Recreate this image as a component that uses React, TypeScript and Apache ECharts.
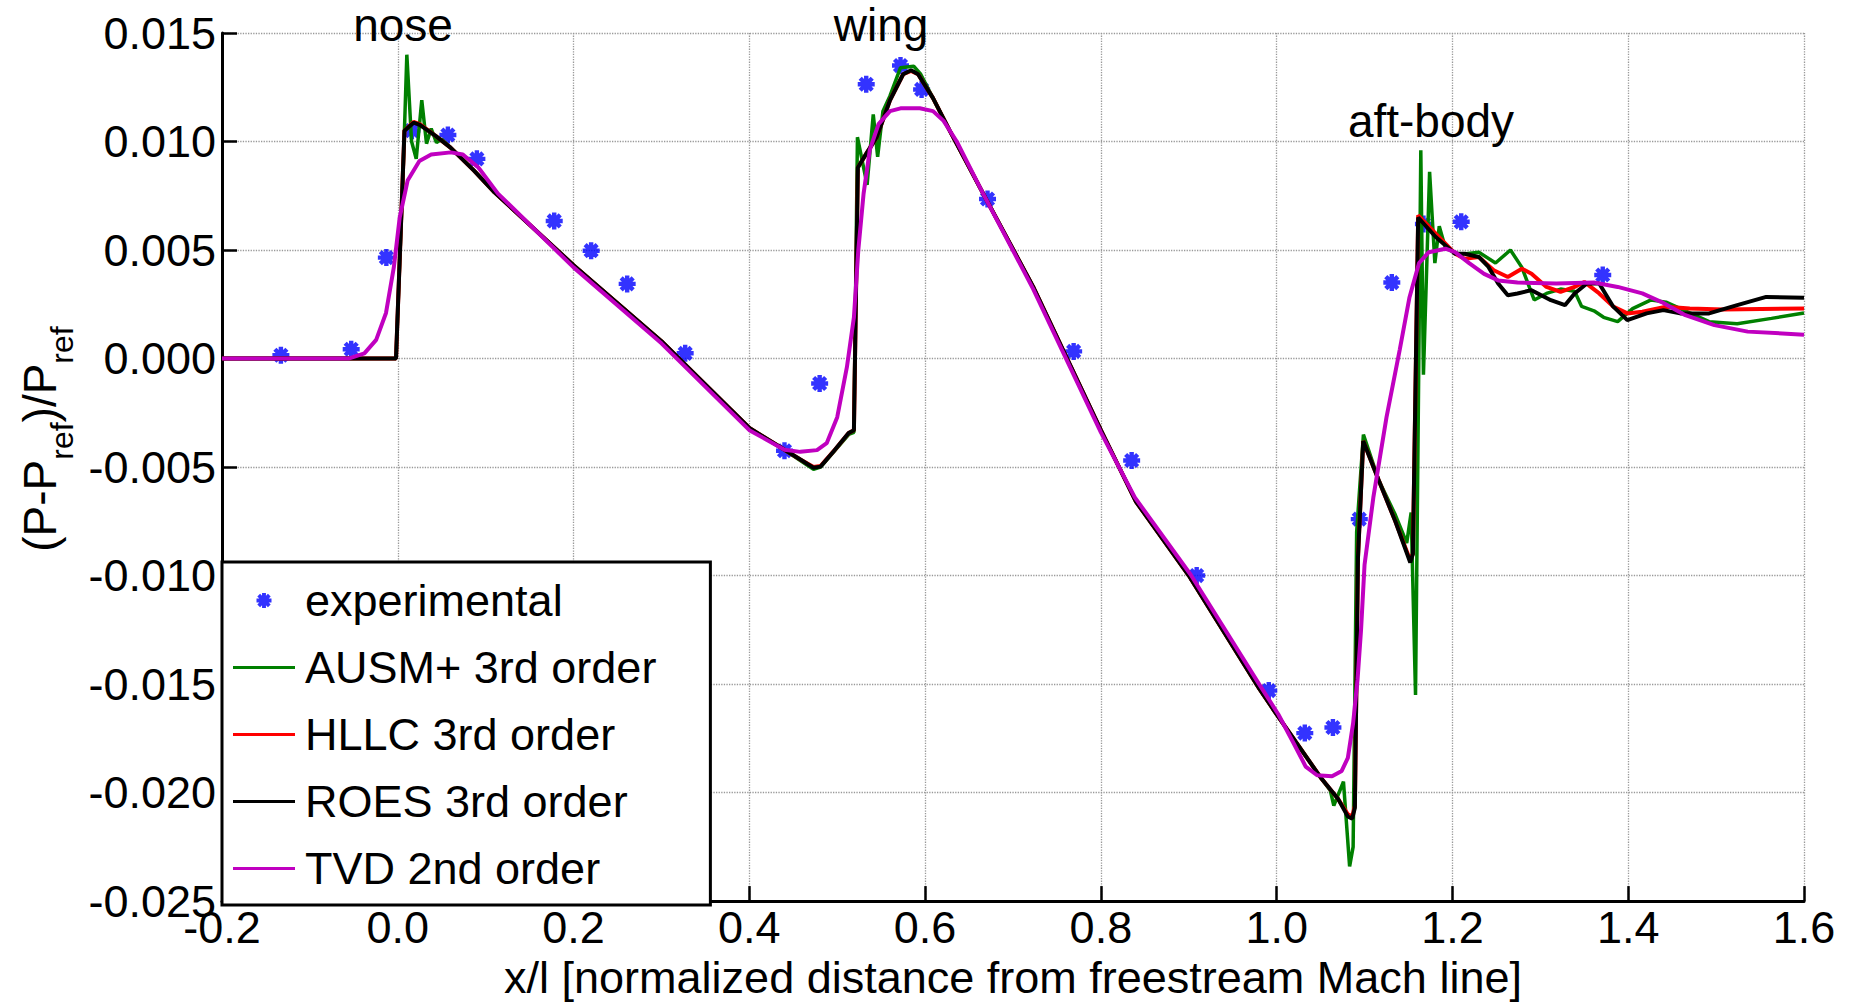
import React, { useEffect, useRef } from 'react';
import * as echarts from 'echarts';

const FONT = '"Liberation Sans", Arial, Helvetica, sans-serif';

// x/l, (P-Pref)/Pref
const experimental: [number, number][] = [
  [-0.133, 0.00015], [-0.053, 0.00043], [-0.013, 0.00465], [0.016, 0.0105],
  [0.057, 0.0103], [0.09, 0.0092], [0.178, 0.00634], [0.22, 0.00497],
  [0.261, 0.00344], [0.327, 0.00024], [0.44, -0.00425], [0.48, -0.00115],
  [0.533, 0.01264], [0.572, 0.0135], [0.596, 0.0124], [0.671, 0.00735],
  [0.769, 0.00033], [0.835, -0.0047], [0.909, -0.01], [0.991, -0.0153],
  [1.032, -0.01726], [1.064, -0.017], [1.094, -0.0074], [1.131, 0.0035],
  [1.167, 0.0062], [1.21, 0.0063], [1.371, 0.00385],
];

const ausm: [number, number][] = [
  [-0.2, 0], [-0.002, 0], [0.006, 0.0085], [0.0103, 0.014], [0.0157, 0.01],
  [0.021, 0.0092], [0.0273, 0.0119], [0.0327, 0.0099], [0.038, 0.0106],
  [0.044, 0.00995], [0.05, 0.0101], [0.06, 0.00972], [0.087, 0.00865],
  [0.11, 0.00766], [0.2, 0.0043], [0.3, 0.0008], [0.4, -0.0032], [0.44, -0.0042],
  [0.458, -0.0047], [0.473, -0.0051], [0.481, -0.005], [0.496, -0.0043],
  [0.513, -0.0035], [0.519, -0.0034], [0.523, 0.0102], [0.534, 0.008],
  [0.541, 0.01125], [0.546, 0.0093], [0.552, 0.0114], [0.56, 0.0121],
  [0.572, 0.0134], [0.587, 0.01347], [0.595, 0.0131], [0.609, 0.012],
  [0.628, 0.0105], [0.67, 0.0073], [0.723, 0.0033], [0.8, -0.0033],
  [0.84, -0.0066], [0.9, -0.01], [0.98, -0.0152], [1.0, -0.0164],
  [1.05, -0.0193], [1.061, -0.0199], [1.065, -0.0206], [1.076, -0.0195],
  [1.083, -0.0234], [1.087, -0.0225], [1.091, -0.008], [1.0987, -0.0035],
  [1.116, -0.0056], [1.135, -0.0072], [1.148, -0.0085], [1.153, -0.0071],
  [1.158, -0.0155], [1.162, 0.001], [1.164, 0.0096], [1.167, -0.00075],
  [1.174, 0.0086], [1.18, 0.0044], [1.185, 0.0061], [1.192, 0.0051],
  [1.208, 0.0048], [1.23, 0.0049], [1.249, 0.0044], [1.266, 0.005],
  [1.279, 0.0042], [1.293, 0.0027], [1.307, 0.003], [1.323, 0.0032],
  [1.339, 0.0031], [1.347, 0.0024], [1.361, 0.0022], [1.372, 0.0019],
  [1.388, 0.0017], [1.405, 0.0023], [1.426, 0.0027], [1.443, 0.0026],
  [1.47, 0.0021], [1.492, 0.0017], [1.524, 0.0016], [1.563, 0.00185],
  [1.6, 0.0021],
];

const hllc: [number, number][] = [
  [-0.2, 0], [-0.002, 0], [0.0076, 0.0105], [0.018, 0.0109], [0.025, 0.0108],
  [0.043, 0.01026], [0.06, 0.00972], [0.087, 0.00865], [0.11, 0.00766],
  [0.2, 0.0043], [0.3, 0.0008], [0.4, -0.0032], [0.44, -0.0042],
  [0.458, -0.00465], [0.473, -0.005], [0.481, -0.00495], [0.496, -0.00427],
  [0.513, -0.00343], [0.519, -0.0033], [0.5235, 0.0088], [0.534, 0.0095],
  [0.545, 0.0102], [0.56, 0.0119], [0.575, 0.0131], [0.584, 0.01325],
  [0.592, 0.0131], [0.609, 0.012], [0.628, 0.0105], [0.67, 0.0073],
  [0.723, 0.0033], [0.8, -0.0033], [0.84, -0.0066], [0.9, -0.01],
  [0.98, -0.0152], [1.0, -0.0164], [1.05, -0.0193], [1.07, -0.0203],
  [1.081, -0.021], [1.086, -0.0211], [1.089, -0.0206], [1.0925, -0.0092],
  [1.0985, -0.0038], [1.116, -0.0056], [1.135, -0.0075], [1.152, -0.0093],
  [1.155, -0.009], [1.161, 0.0066], [1.181, 0.00575], [1.203, 0.00483],
  [1.214, 0.0046], [1.23, 0.00468], [1.247, 0.00407], [1.263, 0.00376],
  [1.279, 0.00414], [1.29, 0.00391], [1.307, 0.0033], [1.323, 0.00307],
  [1.339, 0.0033], [1.35, 0.00353], [1.367, 0.003], [1.383, 0.00239],
  [1.399, 0.00208], [1.416, 0.00216], [1.443, 0.00239], [1.47, 0.00231],
  [1.508, 0.00226], [1.6, 0.00231],
];

const roes: [number, number][] = [
  [-0.2, 0], [-0.002, 0], [0.0076, 0.0105], [0.018, 0.01087], [0.025, 0.01077],
  [0.043, 0.01026], [0.06, 0.00972], [0.087, 0.00865], [0.11, 0.00766],
  [0.2, 0.0043], [0.3, 0.0008], [0.4, -0.0032], [0.44, -0.0042],
  [0.458, -0.00465], [0.473, -0.00503], [0.481, -0.00498], [0.496, -0.00427],
  [0.513, -0.00343], [0.519, -0.0033], [0.5235, 0.0088], [0.534, 0.0095],
  [0.545, 0.0102], [0.56, 0.0119], [0.575, 0.0131], [0.584, 0.01328],
  [0.592, 0.0131], [0.609, 0.012], [0.628, 0.0105], [0.67, 0.0073],
  [0.723, 0.0033], [0.8, -0.0033], [0.84, -0.0066], [0.9, -0.01],
  [0.98, -0.0152], [1.0, -0.0164], [1.05, -0.0193], [1.07, -0.0203],
  [1.081, -0.0211], [1.086, -0.0212], [1.089, -0.0207], [1.0925, -0.0092],
  [1.0985, -0.0038], [1.116, -0.0056], [1.135, -0.0075], [1.152, -0.0094],
  [1.155, -0.009], [1.161, 0.0065], [1.181, 0.0056], [1.203, 0.00483],
  [1.214, 0.00483], [1.23, 0.00468], [1.241, 0.00422], [1.252, 0.00346],
  [1.263, 0.00292], [1.274, 0.003], [1.29, 0.00315], [1.312, 0.00269],
  [1.328, 0.00246], [1.339, 0.003], [1.353, 0.00346], [1.367, 0.00346],
  [1.383, 0.00239], [1.399, 0.00177], [1.421, 0.00208], [1.44, 0.00223],
  [1.459, 0.00208], [1.492, 0.00208], [1.524, 0.00246], [1.557, 0.00284],
  [1.6, 0.0028],
];

const tvd: [number, number][] = [
  [-0.2, 0], [-0.056, 0], [-0.038, 0.00024], [-0.0246, 0.00086],
  [-0.0134, 0.0021], [-0.0045, 0.0042], [0.0022, 0.0065], [0.0112, 0.0082],
  [0.0246, 0.0091], [0.038, 0.0094], [0.0604, 0.0095], [0.074, 0.0094],
  [0.0917, 0.0088], [0.114, 0.0076], [0.2, 0.0042], [0.3, 0.0007],
  [0.4, -0.0033], [0.44, -0.0042], [0.458, -0.0043], [0.477, -0.00422],
  [0.488, -0.0039], [0.5, -0.0027], [0.511, -0.0004], [0.519, 0.0019],
  [0.524, 0.005], [0.53, 0.0076], [0.537, 0.0096], [0.547, 0.0108],
  [0.56, 0.0114], [0.572, 0.01153], [0.594, 0.01153], [0.609, 0.0114],
  [0.621, 0.01095], [0.636, 0.01], [0.666, 0.0076], [0.723, 0.0032],
  [0.8, -0.0034], [0.8386, -0.0064], [0.902, -0.00995], [0.98, -0.015],
  [1.002, -0.0164], [1.0196, -0.01775], [1.033, -0.0188], [1.046, -0.0192],
  [1.063, -0.01925], [1.074, -0.019], [1.081, -0.0184], [1.087, -0.0168],
  [1.092, -0.0148], [1.096, -0.0125], [1.1, -0.0095], [1.11, -0.0064],
  [1.125, -0.0027], [1.14, 0.0004], [1.151, 0.0028], [1.162, 0.0044],
  [1.173, 0.0049], [1.192, 0.00506], [1.203, 0.0049], [1.219, 0.0044],
  [1.236, 0.0039], [1.252, 0.0036], [1.274, 0.0035], [1.318, 0.00346],
  [1.361, 0.0035], [1.388, 0.0033], [1.416, 0.003], [1.438, 0.0026],
  [1.465, 0.002], [1.498, 0.00154], [1.536, 0.00124], [1.6, 0.0011],
];

const seriesNames = ['experimental', 'AUSM+ 3rd order', 'HLLC 3rd order', 'ROES 3rd order', 'TVD 2nd order'];
const annotationTexts = ['nose', 'wing', 'aft-body'];
const xName = 'x/l [normalized distance from freestream Mach line]';

const ASTERISK =
  'path://M-10,-2.6L10,-2.6L10,2.6L-10,2.6Z M-2.6,-10L2.6,-10L2.6,10L-2.6,10Z ' +
  'M-5.23,-8.91L8.91,5.23L5.23,8.91L-8.91,-5.23Z M-8.91,5.23L5.23,-8.91L8.91,-5.23L-5.23,8.91Z';
const LINE_ICON = 'path://M0,0L64,0L64,3L0,3Z';

const fmt = (v: number, d: number) => (Math.abs(v) < 1e-9 ? 0 : v).toFixed(d);

export default function App() {
  const ref = useRef<HTMLDivElement>(null);
  useEffect(() => {
    if (!ref.current) return;
    const chart = echarts.init(ref.current, undefined, { renderer: 'svg' });
    const lineSeries = (name: string, data: [number, number][], color: string, width: number) => ({
      name,
      type: 'line',
      data,
      showSymbol: false,
      symbol: 'none',
      clip: true,
      itemStyle: { color },
      lineStyle: { color, width },
    });
    const annStyle = (text: string) => ({
      text,
      fontSize: 46,
      fontFamily: FONT,
      fill: '#000',
      align: 'center',
      verticalAlign: 'middle',
      textAlign: 'center',
      textVerticalAlign: 'middle',
    });
    chart.setOption({
      animation: false,
      backgroundColor: '#fff',
      textStyle: { fontFamily: FONT },
      grid: { left: 222, right: 50, top: 33, bottom: 100, containLabel: false },
      xAxis: {
        type: 'value',
        min: -0.2,
        max: 1.6,
        interval: 0.2,
        name: xName,
        nameLocation: 'middle',
        nameGap: 52,
        nameTextStyle: { fontSize: 45, fontFamily: FONT, color: '#000' },
        axisLine: { onZero: false, lineStyle: { color: '#000', width: 3 } },
        axisTick: { inside: true, length: 15, lineStyle: { color: '#000', width: 2.5 } },
        axisLabel: { fontSize: 45, fontFamily: FONT, color: '#000', margin: 4, formatter: (v: number) => fmt(v, 1) },
        splitLine: { show: true, lineStyle: { type: 'dotted', color: '#999', width: 1.3 } },
      },
      yAxis: {
        type: 'value',
        min: -0.025,
        max: 0.015,
        interval: 0.005,
        axisLine: { onZero: false, lineStyle: { color: '#000', width: 3 } },
        axisTick: { inside: true, length: 15, lineStyle: { color: '#000', width: 2.5 } },
        axisLabel: { fontSize: 45, fontFamily: FONT, color: '#000', margin: 6, formatter: (v: number) => fmt(v, 3) },
        splitLine: { show: true, lineStyle: { type: 'dotted', color: '#999', width: 1.3 } },
      },
      legend: {
        data: [
          { name: seriesNames[0] },
          { name: seriesNames[1], icon: LINE_ICON },
          { name: seriesNames[2], icon: LINE_ICON },
          { name: seriesNames[3], icon: LINE_ICON },
          { name: seriesNames[4], icon: LINE_ICON },
        ],
        orient: 'vertical',
        left: 222,
        top: 562,
        padding: [16, 54, 14, 11],
        itemGap: 22,
        itemWidth: 62,
        itemHeight: 15,
        backgroundColor: '#fff',
        borderColor: '#000',
        borderWidth: 3,
        selectedMode: false,
        textStyle: { fontSize: 45, fontFamily: FONT, color: '#000', padding: [0, 0, 0, 5] },
      },
      graphic: [
        { type: 'text', x: 403, y: 25, z: 100, style: annStyle(annotationTexts[0]) },
        { type: 'text', x: 881, y: 25, z: 100, style: annStyle(annotationTexts[1]) },
        { type: 'text', x: 1431, y: 121, z: 100, style: annStyle(annotationTexts[2]) },
        {
          type: 'text',
          x: 47,
          y: 439,
          rotation: Math.PI / 2,
          z: 100,
          style: {
            text: '{m|(P-P}{s|ref}{m|)/P}{s|ref}',
            align: 'center',
            verticalAlign: 'middle',
            textAlign: 'center',
            textVerticalAlign: 'middle',
            fill: '#000',
            rich: {
              m: { fontSize: 46, fontFamily: FONT, fill: '#000', color: '#000', lineHeight: 61, verticalAlign: 'top' },
              s: { fontSize: 32, fontFamily: FONT, fill: '#000', color: '#000', lineHeight: 61, verticalAlign: 'bottom' },
            },
          },
        },
      ],
      series: [
        {
          name: seriesNames[0],
          type: 'scatter',
          data: experimental,
          symbol: ASTERISK,
          symbolSize: 17,
          itemStyle: { color: '#0000ff' },
        },
        lineSeries(seriesNames[1], ausm, '#008000', 3.5),
        lineSeries(seriesNames[2], hllc, '#ff0000', 4),
        lineSeries(seriesNames[3], roes, '#000000', 4),
        lineSeries(seriesNames[4], tvd, '#c000c0', 4),
      ],
    });
    return () => chart.dispose();
  }, []);
  return (
    <div
      ref={ref}
      style={{ position: 'absolute', left: 0, top: 0, width: '1854px', height: '1005px', background: '#fff' }}
    />
  );
}
